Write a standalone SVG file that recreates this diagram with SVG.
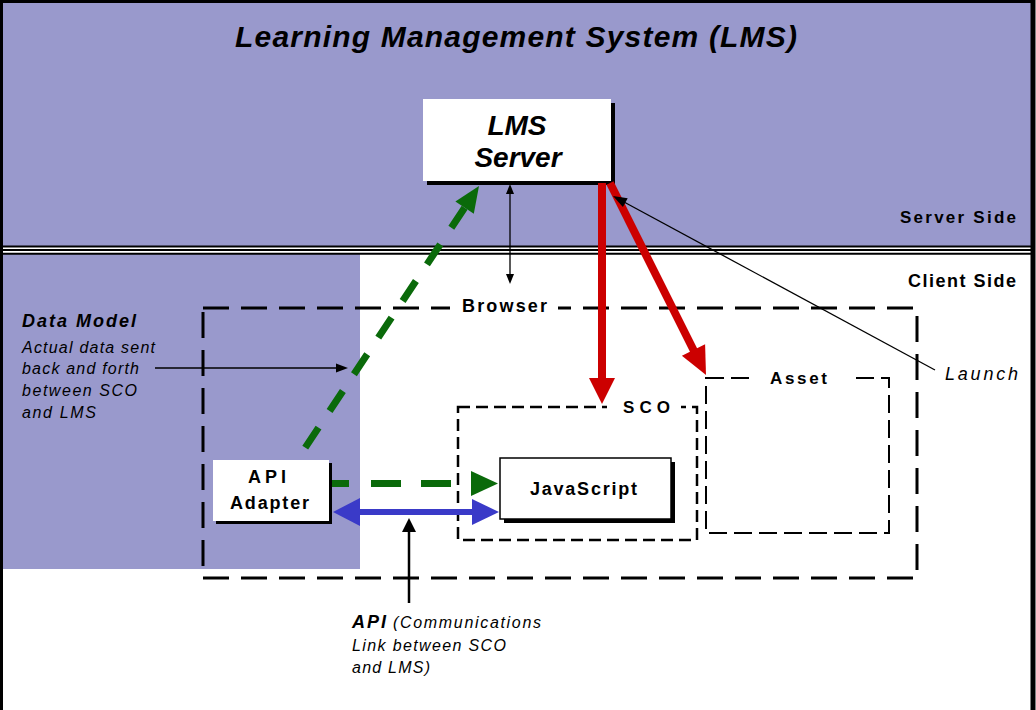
<svg xmlns="http://www.w3.org/2000/svg" width="1036" height="710" viewBox="0 0 1036 710">
<style>
text{font-family:"Liberation Sans",Arial,sans-serif;fill:#000}
.b{font-weight:bold}
.bi{font-weight:bold;font-style:italic}
.i{font-style:italic}
.purple{fill:#9999cc}
.sep{stroke:#000;stroke-width:2}
.thin{stroke:#000;stroke-width:1.3;fill:none}
.head{fill:#000}
.red{stroke:#cc0000;stroke-width:8;fill:none}
.redh{fill:#cc0000}
.green{stroke:#0a6a0a;stroke-width:7;fill:none}
.greenh{fill:#0a6a0a}
.blue{stroke:#3a3ac8;stroke-width:6;fill:none}
.blueh{fill:#3a3ac8}
</style>
<rect x="0" y="0" width="1036" height="710" fill="#fff"/>
<g id="background">
<rect class="purple" x="3" y="3" width="1028" height="244"/>
<rect class="purple" x="3" y="254" width="357" height="315"/>
<line class="sep" x1="3" y1="246.5" x2="1031" y2="246.5"/>
<line class="sep" x1="3" y1="250" x2="1031" y2="250"/>
<line class="sep" x1="3" y1="253.7" x2="1031" y2="253.7"/>
<rect x="1.5" y="1.5" width="1031" height="720" fill="none" stroke="#000" stroke-width="3"/>
<line x1="1033" y1="0" x2="1033" y2="710" stroke="#000" stroke-width="5"/>
<text class="bi" x="235" y="47" font-size="30" textLength="562" lengthAdjust="spacing">Learning Management System (LMS)</text>
<text class="b" x="900" y="223" font-size="17" textLength="116" lengthAdjust="spacing">Server Side</text>
<text class="b" x="908" y="287" font-size="18" textLength="108" lengthAdjust="spacing">Client Side</text>
</g>
<g id="browser">
<rect x="203" y="308" width="714" height="270" fill="none" stroke="#000" stroke-width="3" stroke-dasharray="26 12"/>
<rect x="450" y="298" width="108" height="18" fill="#fff"/>
<text class="b" x="462" y="312" font-size="18" textLength="85" lengthAdjust="spacing">Browser</text>
</g>
<g id="sco">
<rect x="458" y="407" width="239" height="133" fill="none" stroke="#000" stroke-width="2.5" stroke-dasharray="12 6"/>
<rect x="607" y="398" width="74" height="16" fill="#fff"/>
<text class="b" x="623" y="413" font-size="17" textLength="47" lengthAdjust="spacing">SCO</text>
</g>
<g id="asset">
<rect x="706" y="378" width="183" height="155" fill="none" stroke="#000" stroke-width="2" stroke-dasharray="18 7"/>
<rect x="749" y="370" width="103" height="16" fill="#fff"/>
<text class="b" x="770" y="384" font-size="17" textLength="57" lengthAdjust="spacing">Asset</text>
</g>
<g id="lms-server">
<rect x="427" y="103" width="188" height="82" fill="#000"/>
<rect x="423" y="99" width="188" height="82" fill="#fff"/>
<text class="bi" x="517" y="135" font-size="28" text-anchor="middle">LMS</text>
<text class="bi" x="518" y="167" font-size="28" text-anchor="middle">Server</text>
</g>
<g id="javascript">
<rect x="504" y="462" width="171" height="61" fill="#000"/>
<rect x="500" y="458" width="171" height="61" fill="#fff" stroke="#000" stroke-width="1.5"/>
<text class="b" x="530" y="495" font-size="18" textLength="107" lengthAdjust="spacing">JavaScript</text>
</g>
<g id="api-adapter">
<rect x="216" y="463" width="116" height="61" fill="#000"/>
<rect x="213" y="460" width="116" height="61" fill="#fff"/>
<text class="b" x="248" y="483" font-size="18" textLength="38" lengthAdjust="spacing">API</text>
<text class="b" x="230" y="509" font-size="18" textLength="79" lengthAdjust="spacing">Adapter</text>
</g>
<g id="data-model-label">
<text class="bi" x="22" y="327" font-size="18" textLength="114" lengthAdjust="spacing">Data Model</text>
<text class="i" x="22" y="353" font-size="16" textLength="133" lengthAdjust="spacing">Actual data sent</text>
<text class="i" x="22" y="374" font-size="16" textLength="117" lengthAdjust="spacing">back and forth</text>
<text class="i" x="22" y="396" font-size="16" textLength="115" lengthAdjust="spacing">between SCO</text>
<text class="i" x="22" y="418" font-size="16" textLength="74" lengthAdjust="spacing">and LMS</text>
</g>
<g id="api-label">
<text class="bi" x="352" y="628" font-size="18" textLength="34" lengthAdjust="spacing">API</text>
<text class="i" x="393" y="628" font-size="16" textLength="148" lengthAdjust="spacing">(Communications</text>
<text class="i" x="352" y="651" font-size="16" textLength="154" lengthAdjust="spacing">Link between SCO</text>
<text class="i" x="352" y="673" font-size="16" textLength="78" lengthAdjust="spacing">and LMS)</text>
</g>
<g id="launch-label">
<text class="i" x="945" y="380" font-size="18" textLength="73" lengthAdjust="spacing">Launch</text>
</g>
<g id="connectors">
<path class="green" stroke-width="6" d="M464.6,207.7 L297,460" stroke-dasharray="24 20"/>
<polygon class="greenh" points="479,186 473.8,213.8 455.4,201.6"/>
<line class="thin" x1="510" y1="193" x2="510" y2="275"/>
<polygon class="head" points="510,184 506,194 514,194"/>
<polygon class="head" points="510,284 506,274 514,274"/>
<line class="red" x1="602" y1="183" x2="602" y2="379"/>
<polygon class="redh" points="589,378 615,378 602,404"/>
<line class="red" x1="610" y1="183" x2="694.5" y2="352"/>
<polygon class="redh" points="706,375 705.1,344.2 681.9,355.8"/>
<line class="thin" x1="935" y1="370" x2="624" y2="202"/>
<polygon class="head" points="613,196 622.9,207.05 627.7,198.25"/>
<line class="thin" stroke-width="1.5" x1="155" y1="368" x2="338" y2="368"/>
<polygon class="head" points="348,368 336,363.5 336,372.5"/>
<path class="green" d="M332,483.5 H471" stroke-dasharray="17 22 30 20 30 20"/>
<polygon class="greenh" points="471,471 498,483.5 471,496"/>
<line class="blue" x1="358" y1="512" x2="473" y2="512"/>
<polygon class="blueh" points="472,499 499,512 472,525"/>
<polygon class="blueh" points="360,498 333,512 360,526"/>
<line x1="409" y1="603" x2="409" y2="530" stroke="#000" stroke-width="2.5"/>
<polygon class="head" points="409,518 402,532 416,532"/>
</g>
</svg>
